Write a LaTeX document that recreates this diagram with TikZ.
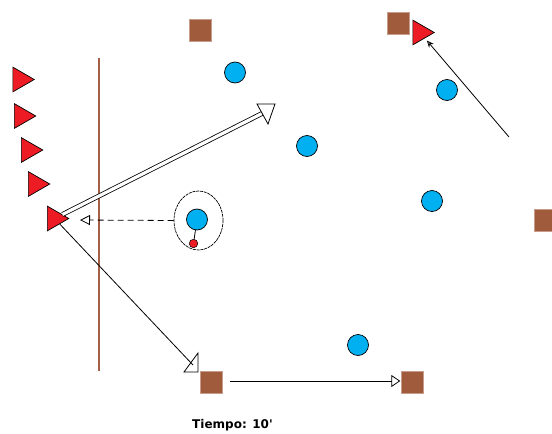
\documentclass[tikz,border=0pt]{standalone}
\usepackage{fontspec}
\newfontfamily\labelfont{DejaVu Sans}
\usetikzlibrary{shapes.geometric,arrows.meta}
\definecolor{plred}{RGB}{237,28,36}
\definecolor{plbrown}{RGB}{160,90,60}
\definecolor{plblue}{RGB}{0,176,240}
\definecolor{linebrown}{RGB}{165,95,70}
\begin{document}
\begin{tikzpicture}[x=1pt,y=-1pt,
  attacker/.style={regular polygon, regular polygon sides=3, shape border rotate=-90,
    minimum size=28.5pt, inner sep=0pt, fill=plred, draw=black, line width=0.7pt},
  cone/.style={rectangle, minimum size=22pt, inner sep=0pt, fill=plbrown,
    draw=plbrown!60!white, line width=0.4pt},
  defender/.style={circle, minimum size=21pt, inner sep=0pt, fill=plblue,
    draw=black, line width=0.7pt},
  ballnode/.style={circle, minimum size=8.5pt, inner sep=0pt, fill=plred,
    draw=black, line width=0.5pt},
  ringnode/.style={ellipse, minimum width=49pt, minimum height=59pt, inner sep=0pt,
    draw=black, line width=0.7pt, dash pattern=on 3pt off 0.8pt},
  conn/.style={draw=black, line width=0.8pt},
  passline/.style={conn, dash pattern=on 6pt off 4pt},
  runline/.style={draw=black, line width=0.8pt, double=white, double distance=3.2pt},
  headshape/.style={draw=black, line width=0.8pt, fill=white},
  timelabel/.style={font=\labelfont\bfseries\fontsize{12}{14}\selectfont, inner sep=0pt}
]
\clip (0,0) rectangle (552,434);
\fill[white] (0,0) rectangle (552,434);

% field line
\draw[linebrown, line width=1.2pt] (99,58) -- (99,371);

% cones
\node[cone] (c1) at (200,30) {};
\node[cone] (c2) at (398,23) {};
\node[cone] (c3) at (545,220.5) {};
\node[cone] (c4) at (211,382.5) {};
\node[cone] (c5) at (412.5,382.5) {};

% defenders
\node[defender] (d1) at (235,72.5) {};
\node[defender] (d2) at (307,146) {};
\node[defender] (d3) at (447,90) {};
\node[defender] (d4) at (432,201) {};
\node[defender] (d5) at (197,219.5) {};
\node[defender] (d6) at (358,345) {};

% ring and ball
\node[ringnode] (ring) at (198.5,220.5) {};
\node[ballnode] (ball) at (193.5,243.5) {};
\draw[conn] (d5) -- (ball);

% attackers
\node[attacker] (a1) at (20,79.5) {};
\node[attacker] (a2) at (21.5,116) {};
\node[attacker] (a3) at (28.5,150) {};
\node[attacker] (a4) at (35.5,184) {};
\node[attacker] (a5) at (54.5,218.5) {};
\node[attacker] (a6) at (420,32.5) {};

% pass (dashed)
\coordinate (passend) at (80,220);
\draw[passline, -{Triangle[open,length=10pt,width=10pt]}] (ring.west) -- (passend);

% run (double line)
\coordinate (runend) at (263,113);
\draw[runline] (a5) -- (runend);
\draw[headshape] (257,104) -- (275,104) -- (268,124) -- cycle;

% diagonal run
\coordinate (cutend) at (193,365);
\draw[conn] (a5) -- (cutend);
\draw[conn] (184,372) -- (198,372) -- (198,353) -- cycle;

% horizontal run between cones
\draw[conn, -{Triangle[open,length=9pt,width=12pt]}]
  ([shift={(8,-1.5)}]c4.east) -- ([shift={(-1,-1.5)}]c5.west);

% run to top-right attacker
\coordinate (runstart) at (509,137);
\draw[conn, shorten >=3pt, -{Stealth[open,length=7pt,width=6pt]}] (runstart) -- (a6);

% time label
\node[timelabel] (time) at (232.5,425.5) {Tiempo: 10'};
\end{tikzpicture}
\end{document}
